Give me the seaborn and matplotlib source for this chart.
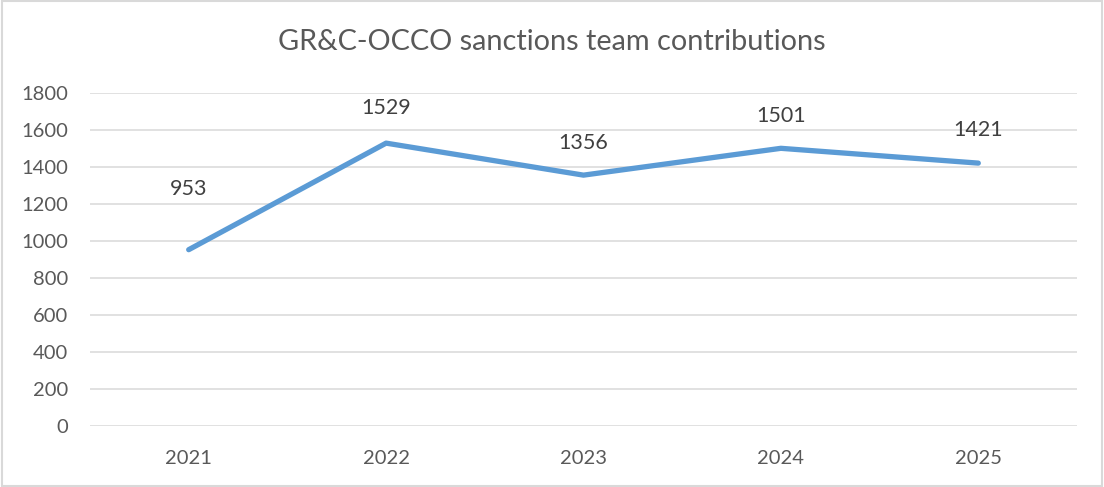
import numpy as np
import pandas as pd
import matplotlib.pyplot as plt
import seaborn as sns

years = ["2021", "2022", "2023", "2024", "2025"]
contributions = [953, 1529, 1356, 1501, 1421]

df = pd.DataFrame({"year": years, "contributions": contributions})

sns.set_theme(style="white")
plt.rcParams['font.family'] = ['Lato', 'DejaVu Sans']

fig = plt.figure(figsize=(11.04, 4.87), dpi=100)
ax = fig.add_axes([90 / 1104, 1 - 426 / 487, (1077 - 90) / 1104, (426 - 93) / 487])

sns.lineplot(data=df, x="year", y="contributions", ax=ax, color="#5B9BD5",
             linewidth=3.8, solid_capstyle="round", solid_joinstyle="round", sort=False)

# label offsets in points (first label sits higher in the original)
offs = [44, 25, 23, 23, 24]
for i, v in enumerate(contributions):
    ax.annotate(str(v), (i, v), xytext=(0, offs[i]), textcoords="offset points",
                ha="center", va="center", fontsize=15.5, color="#404040")

ax.set_xlim(-0.5, 4.5)
ax.set_ylim(0, 1800)
ax.set_yticks(np.arange(0, 1801, 200))
ax.yaxis.grid(True, color="#D9D9D9", linewidth=1.1)
ax.set_axisbelow(True)
for s in ax.spines.values():
    s.set_visible(False)
ax.set_xlabel("")
ax.set_ylabel("")
ax.tick_params(axis="both", length=0, labelsize=14.5, labelcolor="#595959")
ax.tick_params(axis="y", pad=16)
ax.tick_params(axis="x", pad=17)

fig.text(0.5, 1 - 42 / 487, "GR&C-OCCO sanctions team contributions", ha="center", va="center",
         fontsize=20.8, color="#595959")

# light border around the chart area
fig.patches.append(plt.Rectangle((0.002, 0.003), 0.996, 0.994, transform=fig.transFigure,
                                 fill=False, edgecolor="#D9D9D9", linewidth=1.5))

fig.savefig("out.png", dpi=100)
